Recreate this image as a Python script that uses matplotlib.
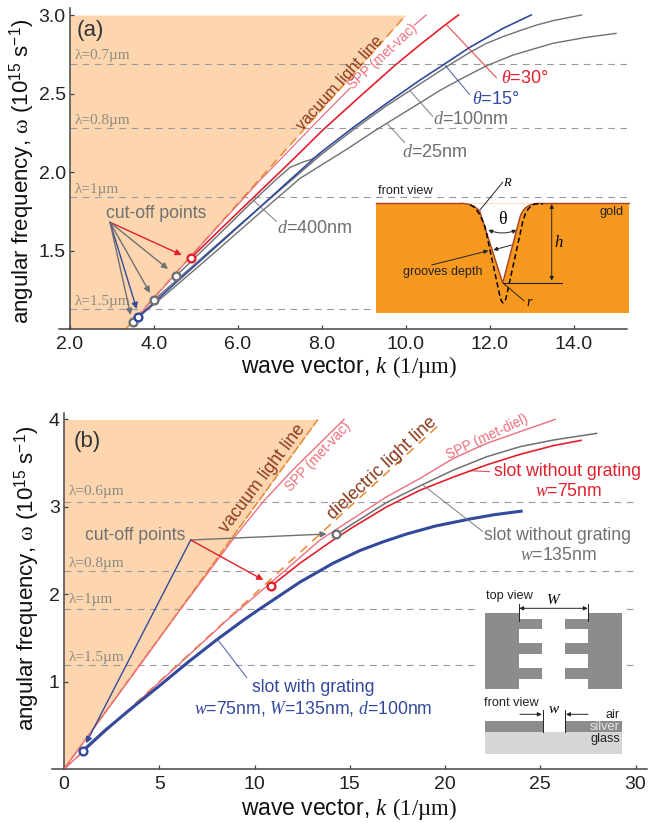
import matplotlib
matplotlib.use("Agg")
import matplotlib.pyplot as plt
from matplotlib.path import Path
from matplotlib.patches import PathPatch, Rectangle
import numpy as np

plt.rcParams['font.family'] = ['Liberation Sans', 'DejaVu Sans']
plt.rcParams['mathtext.fontset'] = 'custom'
plt.rcParams['mathtext.rm'] = 'Liberation Serif'
plt.rcParams['mathtext.it'] = 'Liberation Serif:italic'
plt.rcParams['mathtext.sf'] = 'Liberation Sans'

## colors
RED = '#E2202C'
PINK = '#EC6F7D'
BLUE = '#33499B'
GRAY = '#6F7072'
ORANGE = '#E8892F'
SHADE = '#FDD6B0'
BROWN = '#8B3A1E'
LAMBDA_GRAY = '#8C8C80'
AXIS = '#444444'

## panel (a) data
a_vac_k = [3.33, 10.0]
a_vac_w = [1.0, 3.0]
a_lambda_w = [2.69, 2.28, 1.843, 1.127]
a_lambda_labels = ['λ=0.7µm', 'λ=0.8µm', 'λ=1µm', 'λ=1.5µm']

a_spp_k = [3.45, 5.0, 6.5, 7.95, 8.67, np.nan, 10.2, 10.48]
a_spp_w = [1.03, 1.5, 1.94, 2.34, 2.535, np.nan, 2.936, 3.0]
a_t30_k = [4.87, 5.6, 6.3, 7.0, 7.5, 8.03, 8.9, 9.74, 10.33, 10.93, 11.25]
a_t30_w = [1.45, 1.64, 1.82, 2.0, 2.13, 2.27, 2.48, 2.68, 2.81, 2.936, 3.0]
a_t15_k = [3.62, 4.5, 5.5, 6.5, 7.24, 7.95, 8.75, 9.5, 10.33, 10.93, 11.52, 12.31, 12.98]
a_t15_w = [1.076, 1.29, 1.53, 1.77, 1.95, 2.12, 2.285, 2.43, 2.585, 2.69, 2.794, 2.915, 3.0]
a_d100_k = [4.0, 5.0, 6.0, 7.0, 8.0, 8.75, 9.5, 10.33, 10.93, 11.52, 11.92, 12.31, 12.71, 13.11, 13.5, 14.18]
a_d100_w = [1.185, 1.42, 1.655, 1.885, 2.115, 2.27, 2.415, 2.56, 2.665, 2.762, 2.82, 2.862, 2.90, 2.936, 2.964, 3.0]
a_d25_k = [3.5, 4.5, 5.5, 6.5, 7.48, 8.59, 9.3, 10.33, 10.81, 11.36, 11.92, 12.55, 13.5, 14.3, 15.0]
a_d25_w = [1.045, 1.27, 1.50, 1.735, 1.96, 2.145, 2.27, 2.44, 2.52, 2.60, 2.677, 2.745, 2.82, 2.858, 2.883]
a_d400_k = [4.52, 5.5, 6.3, 6.92, 7.24, 7.56, 7.75, 7.95]
a_d400_w = [1.337, 1.59, 1.80, 1.955, 2.03, 2.065, 2.08, 2.115]

a_cut_k = [3.5, 4.0, 4.52]
a_cut_w = [1.045, 1.185, 1.337]
a_cut_blue = (3.62, 1.076)
a_cut_red = (4.87, 1.45)

## panel (b) data
b_vac_k = [0.0, 13.33]
b_vac_w = [0.0, 4.0]
b_diel_k = [0.0, 19.75]
b_diel_w = [0.0, 3.95]
b_lambda_w = [3.055, 2.265, 1.83, 1.186]
b_lambda_labels = ['λ=0.6µm', 'λ=0.8µm', 'λ=1µm', 'λ=1.5µm']

b_sppv_k = [0.0, 3.99, 6.09, 8.98, 10.5, 12.0, 13.4, 14.7]
b_sppv_w = [0.0, 1.19, 1.82, 2.66, 3.07, 3.42, 3.72, 4.0]
b_sppd_k = [0.0, 3.8, 8.54, 10.85, 13.44, 15.19, 16.94, 18.69, 20.44, 22.19, 23.94, 25.78]
b_sppd_w = [0.0, 0.75, 1.70, 2.13, 2.62, 2.868, 3.115, 3.325, 3.554, 3.726, 3.86, 4.0]
b_s75_k = [10.85, 12.39, 14.13, 15.19, 16.94, 18.69, 20.44, 21.31, 22.19, 23.94, 25.69, 27.14]
b_s75_w = [2.09, 2.355, 2.62, 2.77, 3.0, 3.19, 3.34, 3.41, 3.48, 3.60, 3.70, 3.76]
b_s135_k = [14.3, 15.19, 16.94, 18.69, 20.44, 22.19, 23.94, 25.69, 27.96]
b_s135_w = [2.685, 2.81, 3.05, 3.24, 3.42, 3.573, 3.688, 3.764, 3.84]
b_grat_k = [1.0, 2.2, 3.63, 5.0, 6.5, 8.0, 9.4, 10.2, 11.3, 12.4, 14.13, 15.54, 16.76, 18.0, 19.5, 21.3, 22.6, 24.0]
b_grat_w = [0.21, 0.45, 0.71, 0.95, 1.22, 1.476, 1.70, 1.82, 1.98, 2.14, 2.355, 2.50, 2.60, 2.69, 2.78, 2.86, 2.91, 2.95]

b_cut_red = (10.85, 2.09)
b_cut_gray = (14.3, 2.685)
b_cut_blue = (1.0, 0.21)

W, H = 648, 823
fig = plt.figure(figsize=(6.48, 8.23), dpi=100)


def axes_px(left, right, top, bottom):
    return fig.add_axes([left / W, 1 - bottom / H, (right - left) / W, (bottom - top) / H])


def style(ax):
    for s in ['top', 'right']:
        ax.spines[s].set_visible(False)
    for s in ['left', 'bottom']:
        ax.spines[s].set_color(AXIS)
        ax.spines[s].set_linewidth(1.1)
    ax.tick_params(direction='in', length=3, width=0.9, color=AXIS, labelsize=14, labelcolor='#222222')
    ax.tick_params(axis='x', pad=5)
    ax.tick_params(axis='y', pad=3)
    ax.patch.set_alpha(0)


def ring(ax, pt, color):
    ax.plot([pt[0]], [pt[1]], 'o', ms=5.6, mfc='white', mec=color, mew=1.7, zorder=6)


## panel a
ax = axes_px(70, 627, 8, 329)
ax.set_xlim(2, 2 + 557 / 42)
ax.set_ylim(1, 1 + 321 / 157)
ax.set_xticks([2, 4, 6, 8, 10, 12, 14], ['2.0', '4.0', '6.0', '8.0', '10.0', '12.0', '14.0'])
ax.set_yticks([1.5, 2.0, 2.5, 3.0], ['1.5', '2.0', '2.5', '3.0'])
style(ax)
ax.fill_betweenx(a_vac_w, 2, a_vac_k, color=SHADE, lw=0, zorder=0)
for w in a_lambda_w:
    ax.axhline(w, color='#9A9A9A', lw=0.8, dashes=(6, 5), zorder=1)
ax.plot(a_vac_k, a_vac_w, color=ORANGE, lw=1.1, dashes=(6, 3.5), zorder=2)
ax.plot(a_spp_k, a_spp_w, color=PINK, lw=0.9, zorder=3)
ax.plot(a_d25_k, a_d25_w, color=GRAY, lw=1.0, zorder=3)
ax.plot(a_d100_k, a_d100_w, color=GRAY, lw=1.0, zorder=3)
ax.plot(a_d400_k, a_d400_w, color=GRAY, lw=1.0, zorder=3)
ax.plot(a_t15_k, a_t15_w, color=BLUE, lw=1.2, zorder=4)
ax.plot(a_t30_k, a_t30_w, color=RED, lw=1.2, zorder=4)
for pt in zip(a_cut_k, a_cut_w):
    ring(ax, pt, GRAY)
ring(ax, a_cut_blue, BLUE)
ring(ax, a_cut_red, RED)

## panel b
bx = axes_px(64, 647, 412.7, 769)
bx.set_xlim(0, 583 / 19.05)
bx.set_ylim(0, 356.3 / 87.4)
bx.set_xticks([0, 5, 10, 15, 20, 25, 30])
bx.set_yticks([1, 2, 3, 4])
style(bx)
bx.fill_betweenx(b_vac_w, 0, b_vac_k, color=SHADE, lw=0, zorder=0)
for w in b_lambda_w:
    bx.axhline(w, xmax=(636.7 - 64) / 583, color='#9A9A9A', lw=0.8, dashes=(6, 5), zorder=1)
bx.plot(b_vac_k, b_vac_w, color=ORANGE, lw=1.1, dashes=(6, 1.5), zorder=2)
bx.plot(b_diel_k, b_diel_w, color=ORANGE, lw=1.1, dashes=(6, 4.5), zorder=2)
bx.plot(b_sppv_k, b_sppv_w, color=PINK, lw=1.0, zorder=3)
bx.plot(b_sppd_k, b_sppd_w, color=PINK, lw=1.0, zorder=3)
bx.plot(b_s135_k, b_s135_w, color=GRAY, lw=1.1, zorder=4)
bx.plot(b_s75_k, b_s75_w, color=RED, lw=1.2, zorder=4)
bx.plot(b_grat_k, b_grat_w, color=BLUE, lw=2.2, zorder=4)
ring(bx, b_cut_red, RED)
ring(bx, b_cut_gray, GRAY)
ring(bx, b_cut_blue, BLUE)

## overlay in picture pixels, for labels, leaders and the two sketches
ov = fig.add_axes([0, 0, 1, 1])
ov.set_xlim(0, W)
ov.set_ylim(H, 0)
ov.axis('off')
ov.patch.set_alpha(0)


def txt(x, y, s, color='#222222', size=13, ha='left', **kw):
    ov.text(x, y, s, color=color, fontsize=size, ha=ha, va='center', **kw)


def serif(x, y, s, color=LAMBDA_GRAY, size=11, ha='left', **kw):
    ov.text(x, y, s, color=color, fontsize=size, ha=ha, va='center', family='Liberation Serif', **kw)


def leader(x0, y0, x1, y1, color, lw=0.8, alpha=0.8):
    ov.plot([x0, x1], [y0, y1], color=color, lw=lw, alpha=alpha, solid_capstyle='butt')


def arrow(x0, y0, x1, y1, color, lw=1.0, style='-|>', scale=9, **kw):
    ov.annotate('', xy=(x1, y1), xytext=(x0, y0),
                arrowprops=dict(arrowstyle=style, color=color, lw=lw, mutation_scale=scale,
                                shrinkA=0, shrinkB=0, **kw))


## axis extensions to the left of the y axes
ov.plot([59, 70], [329, 329], color=AXIS, lw=1.1)
ov.plot([52, 64], [769, 769], color=AXIS, lw=1.1)

## axis titles
ylab = 'angular frequency, $\\mathrm{ω}$ (10$^{\\mathsf{15}}$ s$^{\\mathsf{-1}}$)'
xlab = 'wave vector, $\\mathit{k}$ $\\mathrm{(1/µm)}$'
ov.text(22, 171, ylab, rotation=90, fontsize=16, ha='center', va='center', color='#111111')
ov.text(27, 578, ylab, rotation=90, fontsize=16, ha='center', va='center', color='#111111')
ov.text(349, 367, xlab, fontsize=16.5, ha='center', va='center', color='#111111')
ov.text(349, 809, xlab, fontsize=16.5, ha='center', va='center', color='#111111')

txt(77, 30, '(a)', size=16, color='#333333')
txt(74, 441, '(b)', size=16, color='#333333')

for y, s in zip([55, 120, 189, 302], a_lambda_labels):
    serif(75, y, s)
for y, s in zip([491, 563, 600, 658], b_lambda_labels):
    serif(69, y, s)

## panel a labels
txt(340, 83, 'vacuum light line', BROWN, 11.6, ha='center', rotation=48, rotation_mode='anchor')
txt(383, 57, 'SPP (met-vac)', PINK, 9.8, ha='center', rotation=43, rotation_mode='anchor')
txt(501, 78, '$\\mathit{θ}$=30°', RED, 13)
txt(472, 99, '$\\mathit{θ}$=15°', BLUE, 13)
txt(433, 119, '$\\mathit{d}$=100nm', GRAY, 13)
txt(402, 152, '$\\mathit{d}$=25nm', GRAY, 13)
txt(277, 228, '$\\mathit{d}$=400nm', GRAY, 13)
txt(106, 213, 'cut-off points', GRAY, 12.7)
leader(446.7, 25, 496.7, 78, RED)
leader(445, 65, 470, 95, BLUE)
leader(410, 90.7, 433, 116.7, GRAY)
leader(386.7, 123, 405, 143, GRAY)
leader(253, 200, 276.7, 221.7, GRAY)
arrow(110, 222.3, 181.7, 255, RED)
arrow(110, 222.3, 168, 269, GRAY)
arrow(110, 222.3, 150, 293, GRAY)
arrow(110, 222.3, 136.7, 309, BLUE)
arrow(110, 222.3, 130.7, 315, GRAY)

## panel b labels
txt(263, 479, 'vacuum light line', BROWN, 12.7, ha='center', rotation=53, rotation_mode='anchor')
txt(382, 468, 'dielectric light line', BROWN, 12.9, ha='center', rotation=43, rotation_mode='anchor')
txt(318, 457, 'SPP (met-vac)', PINK, 9.8, ha='center', rotation=47, rotation_mode='anchor')
txt(487, 437, 'SPP (met-diel)', PINK, 9.8, ha='center', rotation=25, rotation_mode='anchor')
txt(85, 535, 'cut-off points', GRAY, 12.7)
txt(568, 471, 'slot without grating', RED, 12.7, ha='center')
txt(568, 491, '$\\mathit{w}$=75nm', RED, 12.7, ha='center')
txt(558, 535, 'slot without grating', GRAY, 12.7, ha='center')
txt(558, 556, '$\\mathit{w}$=135nm', GRAY, 12.7, ha='center')
txt(313, 687, 'slot with grating', BLUE, 12.7, ha='center')
txt(313, 708, '$\\mathit{w}$=75nm, $\\mathit{W}$=135nm, $\\mathit{d}$=100nm', BLUE, 12.7, ha='center')
leader(470, 470.7, 490, 471.7, RED)
leader(423, 485, 483, 531.7, GRAY)
leader(218, 640, 247, 678, BLUE)
arrow(190.7, 540, 326.7, 534, GRAY)
arrow(190.7, 540, 263.3, 580, RED)
arrow(190.7, 540, 86, 743.3, BLUE)

## sketch: gold grooves
GOLD = '#F7991F'
EDGE = '#A8401E'
ov.add_patch(Rectangle((376, 203), 253, 110, fc=GOLD, ec='none', zorder=2))
groove = Path([(460, 203.3), (475, 203.3), (480, 212), (502.7, 283), (520, 217), (524, 203.3), (540, 203.3)],
              [Path.MOVETO, Path.CURVE3, Path.CURVE3, Path.LINETO, Path.LINETO, Path.CURVE3, Path.CURVE3])
ov.add_patch(PathPatch(groove, fc='white', ec='none', zorder=3))
ov.add_patch(PathPatch(groove, fc='none', ec=EDGE, lw=1.0, zorder=4))
ov.plot([376, 460], [203.3, 203.3], color=EDGE, lw=1.0, zorder=4)
ov.plot([540, 629], [203.3, 203.3], color=EDGE, lw=1.0, zorder=4)
dashed = Path([(470, 205), (478, 207), (485, 226.7), (500, 296.7), (502.7, 308), (506, 298.3),
               (521.7, 226.7), (525, 207), (535, 204), (543, 204)],
              [Path.MOVETO, Path.CURVE3, Path.CURVE3, Path.LINETO, Path.CURVE3, Path.CURVE3,
               Path.LINETO, Path.CURVE3, Path.CURVE3, Path.LINETO])
ov.add_patch(PathPatch(dashed, fc='none', ec='black', lw=1.1, ls=(0, (3.5, 2)), zorder=5))
for x, y, s, size in [(378, 191, 'front view', 9.2), (600, 211.5, 'gold', 9.2), (403, 271.5, 'grooves depth', 9)]:
    ov.text(x, y, s, fontsize=size, color='#222222', ha='left', va='center', zorder=6)
ov.text(502.7, 219, 'θ', fontsize=13, family='Liberation Serif', ha='center', va='center', zorder=6)
ov.text(559, 242, '$\\mathit{h}$', fontsize=12, ha='center', va='center', zorder=6)
ov.text(530, 302.5, '$\\mathit{r}$', fontsize=10, ha='center', va='center', zorder=6)
ov.text(508, 182.5, '$\\mathit{R}$', fontsize=9, ha='center', va='center', zorder=6)
ov.plot([502.7, 561.7], [282.7, 282.7], color='#222222', lw=0.8, zorder=6)
ov.plot([503.3, 524], [283.3, 300.7], color='#222222', lw=0.7, zorder=6)
ov.plot([502.7, 480], [182.3, 210], color='#222222', lw=0.7, zorder=6)
for a in [
    dict(x0=488.3, y0=230, x1=516.7, y1=230, style='<|-|>', connectionstyle='arc3,rad=0.2'),
    dict(x0=551.7, y0=204, x1=551.7, y1=280.7, style='<|-|>'),
    dict(x0=511.7, y0=245, x1=493.3, y1=250),
    dict(x0=431.7, y0=265, x1=488.3, y1=250.7),
]:
    arrow(color='#222222', lw=0.7, scale=6, **a)

## sketch: slot with grating
SILVER = '#8A8C8E'
GLASS = '#D4D6D8'
ov.add_patch(Rectangle((479, 590), 146, 170, fc='white', ec='none', zorder=2))
for x, w in [(485, 34.3), (587.7, 34.6)]:
    ov.add_patch(Rectangle((x, 613.3), w, 76, fc=SILVER, ec='none', zorder=3))
for y in [619, 643.3, 668.3]:
    ov.add_patch(Rectangle((519.3, y), 23, 10.2, fc=SILVER, ec='none', zorder=3))
    ov.add_patch(Rectangle((565, y), 22.7, 10.2, fc=SILVER, ec='none', zorder=3))
ov.add_patch(Rectangle((485, 732.3), 137.3, 21.7, fc=GLASS, ec='none', zorder=3))
ov.add_patch(Rectangle((485, 721.3), 57.7, 11, fc=SILVER, ec='none', zorder=3))
ov.add_patch(Rectangle((565, 721.3), 57.3, 11, fc=SILVER, ec='none', zorder=3))
ov.plot([519.3, 519.3], [604, 621], color='#222222', lw=0.7, zorder=4)
ov.plot([587.7, 587.7], [604, 621], color='#222222', lw=0.7, zorder=4)
ov.plot([542.7, 542.7], [710, 732], color='#222222', lw=0.7, zorder=4)
ov.plot([565, 565], [710, 732], color='#222222', lw=0.7, zorder=4)
arrow(519.3, 608.3, 587.7, 608.3, '#222222', lw=0.7, style='<|-|>', scale=6)
arrow(520, 714.3, 541.7, 714.3, '#222222', lw=0.7, scale=6)
arrow(588, 714.3, 566, 714.3, '#222222', lw=0.7, scale=6)
for x, y, s, c, ha in [(485.5, 595.5, 'top view', '#222222', 'left'), (484.5, 703.5, 'front view', '#222222', 'left'),
                       (620, 715, 'air', '#222222', 'right'), (620, 727, 'silver', '#E8E8E8', 'right'),
                       (620, 739, 'glass', '#222222', 'right')]:
    ov.text(x, y, s, fontsize=9.2, color=c, ha=ha, va='center', zorder=6)
ov.text(554, 600, '$\\mathit{W}$', fontsize=11, ha='center', va='center', zorder=6)
ov.text(554, 709, '$\\mathit{w}$', fontsize=11, ha='center', va='center', zorder=6)

fig.savefig("out.png", dpi=100)
